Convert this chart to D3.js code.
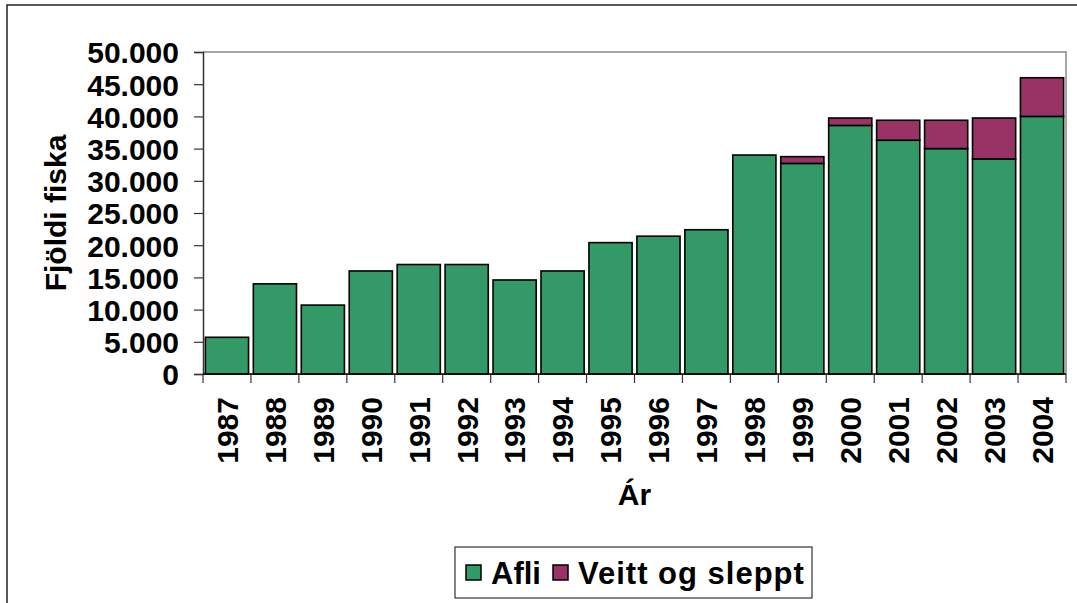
<!DOCTYPE html>
<html>
<head>
<meta charset="utf-8">
<script src="https://cdn.jsdelivr.net/npm/d3@7"></script>
<style>
  body { margin: 0; background: #fff; }
  text { font-family: "Liberation Sans", Arial, sans-serif; font-weight: bold; }
</style>
</head>
<body>
<div id="chart"></div>
<script>
// data
var years = ["1987","1988","1989","1990","1991","1992","1993","1994","1995","1996","1997","1998","1999","2000","2001","2002","2003","2004"];
var afli  = [5700, 14000, 10700, 16000, 17000, 17000, 14600, 16000, 20400, 21400, 22400, 34000, 32700, 38600, 36300, 35000, 33400, 40000];
var veitt = [0, 0, 0, 0, 0, 0, 0, 0, 0, 0, 0, 0, 1050, 1150, 3100, 4400, 6350, 6000];
var yTicks = [0, 5000, 10000, 15000, 20000, 25000, 30000, 35000, 40000, 45000, 50000];
var seriesNames = ["Afli", "Veitt og sleppt"];
var colors = ["#339966", "#993366"];

var width = 1077, height = 603;
var plotLeft = 203, plotRight = 1066, plotTop = 52, plotBottom = 374;

var svg = d3.select("#chart").append("svg")
	.attr("width", width)
	.attr("height", height);

// outer chart frame (runs off the page at right and bottom)
svg.append("rect")
	.attr("x", 7).attr("y", 5)
	.attr("width", 1200).attr("height", 700)
	.attr("fill", "none")
	.attr("stroke", "#222")
	.attr("stroke-width", 1.5);

var rows = years.map(function(y, i) { return {year: y, afli: afli[i], veitt: veitt[i]}; });
var stacked = d3.stack().keys(["afli", "veitt"])(rows);

var x = d3.scaleBand()
	.domain(years)
	.range([plotLeft, plotRight])
	.paddingInner(0.1)
	.paddingOuter(0.05);

var y = d3.scaleLinear()
	.domain([0, 50000])
	.range([plotBottom, plotTop]);

var is = d3.formatLocale({decimal: ",", thousands: ".", grouping: [3], currency: ["", ""]});
var fmt = is.format(",d");

// plot frame top / right (grey)
svg.append("path")
	.attr("d", "M" + plotLeft + "," + plotTop + "H" + plotRight + "V" + plotBottom)
	.attr("fill", "none")
	.attr("stroke", "#8a8a8a")
	.attr("stroke-width", 1.5);

// bars
svg.selectAll("g.series")
	.data(stacked)
	.enter().append("g")
	.attr("class", "series")
	.attr("fill", function(d, i) { return colors[i]; })
	.selectAll("rect")
	.data(function(d) { return d.filter(function(p) { return p[1] - p[0] > 0; }); })
	.enter().append("rect")
	.attr("x", function(d) { return x(d.data.year); })
	.attr("width", x.bandwidth())
	.attr("y", function(d) { return y(d[1]); })
	.attr("height", function(d) { return y(d[0]) - y(d[1]); })
	.attr("stroke", "#000")
	.attr("stroke-width", 1.6);

// y axis
var yAxis = svg.append("g")
	.attr("transform", "translate(" + plotLeft + ",0)")
	.call(d3.axisLeft(y).tickValues(yTicks).tickFormat(fmt).tickSize(9).tickPadding(15));
yAxis.select(".domain").attr("stroke", "#333").attr("stroke-width", 1.5);
yAxis.selectAll(".tick line").attr("stroke", "#333").attr("stroke-width", 1.2);
yAxis.selectAll("text")
	.attr("font-size", 30)
	.attr("font-weight", "bold")
	.attr("fill", "#000")
	.attr("font-family", "Liberation Sans, Arial, sans-serif")
	.attr("dy", "0.36em");

// x axis: labels, then ticks at band boundaries
var xAxis = svg.append("g")
	.attr("transform", "translate(0," + plotBottom + ")")
	.call(d3.axisBottom(x).tickSize(0).tickPadding(0));
xAxis.select(".domain").remove();
xAxis.selectAll("text")
	.attr("font-size", 30)
	.attr("font-weight", "bold")
	.attr("fill", "#000")
	.attr("font-family", "Liberation Sans, Arial, sans-serif")
	.attr("text-anchor", "end")
	.attr("transform", "translate(0,23) rotate(-90)")
	.attr("x", 0)
	.attr("y", 0)
	.attr("dy", "0.36em");

var bounds = years.map(function(yr) { return x(yr) - x.step() * x.paddingInner() / 2; });
bounds[0] = plotLeft;
bounds.push(plotRight);
svg.append("g").selectAll("line")
	.data(bounds)
	.enter().append("line")
	.attr("x1", function(d) { return d; })
	.attr("x2", function(d) { return d; })
	.attr("y1", plotBottom)
	.attr("y2", plotBottom + 9)
	.attr("stroke", "#333")
	.attr("stroke-width", 1.2);

svg.append("line")
	.attr("x1", plotLeft).attr("x2", plotRight)
	.attr("y1", plotBottom).attr("y2", plotBottom)
	.attr("stroke", "#000")
	.attr("stroke-width", 1.5);

// axis titles
svg.append("text")
	.attr("transform", "translate(66,213) rotate(-90)")
	.attr("text-anchor", "middle")
	.attr("font-size", 30)
	.text("Fjöldi fiska");

svg.append("text")
	.attr("x", (plotLeft + plotRight) / 2)
	.attr("y", 505)
	.attr("text-anchor", "middle")
	.attr("font-size", 30)
	.text("Ár");

// legend
var legend = svg.append("g");
legend.append("rect")
	.attr("x", 455).attr("y", 547)
	.attr("width", 357).attr("height", 51)
	.attr("fill", "#fff")
	.attr("stroke", "#333")
	.attr("stroke-width", 1.2);

var legX = [466, 553];
var items = legend.selectAll("g.item")
	.data(seriesNames)
	.enter().append("g")
	.attr("class", "item")
	.attr("transform", function(d, i) { return "translate(" + legX[i] + ",0)"; });
items.append("rect")
	.attr("x", 0).attr("y", 565)
	.attr("width", 15).attr("height", 15)
	.attr("fill", function(d, i) { return colors[i]; })
	.attr("stroke", "#000")
	.attr("stroke-width", 1.5);
items.append("text")
	.attr("x", 25)
	.attr("y", 584)
	.attr("font-size", 31)
	.attr("letter-spacing", function(d, i) { return i ? 1 : 0; })
	.text(function(d) { return d; });
</script>
</body>
</html>
